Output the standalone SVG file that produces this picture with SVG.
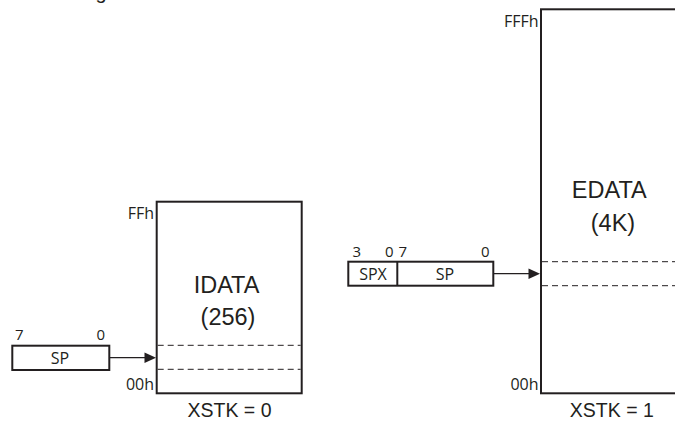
<svg xmlns="http://www.w3.org/2000/svg" width="675" height="422" viewBox="0 0 675 422">
<style>
  .box{fill:#fff;stroke:#231f20;stroke-width:2}
  .dash{stroke:#231f20;stroke-width:1;stroke-dasharray:6 4;fill:none}
  .big{font-family:"Liberation Sans",Arial,sans-serif;font-size:23.5px;fill:#231f20;text-anchor:middle}
  .cap{font-family:"Liberation Sans",Arial,sans-serif;font-size:19.5px;fill:#231f20;text-anchor:middle}
  .addr{font-family:"Open Sans","Noto Sans",sans-serif;font-size:16px;fill:#231f20;text-anchor:end}
  .bit{font-family:"Open Sans","Noto Sans",sans-serif;font-size:15px;fill:#231f20}
  .reg{font-family:"Open Sans","Noto Sans",sans-serif;font-size:16px;fill:#231f20;text-anchor:middle}
  .conn{stroke:#231f20;stroke-width:1.3;fill:none}
  .head{fill:#231f20}
</style>
<rect width="675" height="422" fill="#fff"/>
<text x="95.5" y="-1" style="font-family:'Liberation Sans',Arial,sans-serif;font-size:20px;fill:#231f20">g</text>

<g id="idata">
  <rect class="box" x="156.7" y="201.7" width="145" height="191.6"/>
  <line class="dash" x1="157.7" y1="345.3" x2="300.7" y2="345.3"/>
  <line class="dash" x1="157.7" y1="369.3" x2="300.7" y2="369.3"/>
  <text class="addr" x="154" y="219">FFh</text>
  <text class="addr" x="154" y="390">00h</text>
  <text class="big" x="226.5" y="293">IDATA</text>
  <text class="big" x="228" y="325">(256)</text>
  <text class="cap" x="229.5" y="416.5">XSTK = 0</text>
</g>

<g id="edata">
  <rect class="box" x="541" y="9.3" width="140" height="384"/>
  <line class="dash" x1="542" y1="261.7" x2="675" y2="261.7"/>
  <line class="dash" x1="542" y1="285.7" x2="675" y2="285.7"/>
  <text class="addr" x="538.5" y="27">FFFh</text>
  <text class="addr" x="538.5" y="390">00h</text>
  <text class="big" x="609.3" y="198.3">EDATA</text>
  <text class="big" x="613" y="231">(4K)</text>
  <text class="cap" x="611.8" y="416.5">XSTK = 1</text>
</g>

<g id="sp-reg">
  <rect class="box" x="12.3" y="345.7" width="97" height="24.3"/>
  <text class="reg" x="60" y="363.5">SP</text>
  <text class="bit" x="15" y="339.5">7</text>
  <text class="bit" x="105" y="339.5" text-anchor="end">0</text>
</g>

<g id="spx-sp-reg">
  <rect class="box" x="348.3" y="261.7" width="145" height="24"/>
  <line stroke="#231f20" stroke-width="2" x1="397.3" y1="261.7" x2="397.3" y2="285.7"/>
  <text class="reg" x="373" y="279.5">SPX</text>
  <text class="reg" x="445" y="279.5">SP</text>
  <text class="bit" x="352.5" y="256.5">3</text>
  <text class="bit" x="393.5" y="256.5" text-anchor="end">0</text>
  <text class="bit" x="398.5" y="256.5">7</text>
  <text class="bit" x="489.5" y="256.5" text-anchor="end">0</text>
</g>

<g id="connectors">
  <line class="conn" x1="109.3" y1="357.7" x2="146" y2="357.7"/>
  <polygon class="head" points="144.5,352.4 156,357.7 144.5,363"/>
  <line class="conn" x1="493.3" y1="273.7" x2="530" y2="273.7"/>
  <polygon class="head" points="528.5,268.4 540,273.7 528.5,279"/>
</g>
</svg>
